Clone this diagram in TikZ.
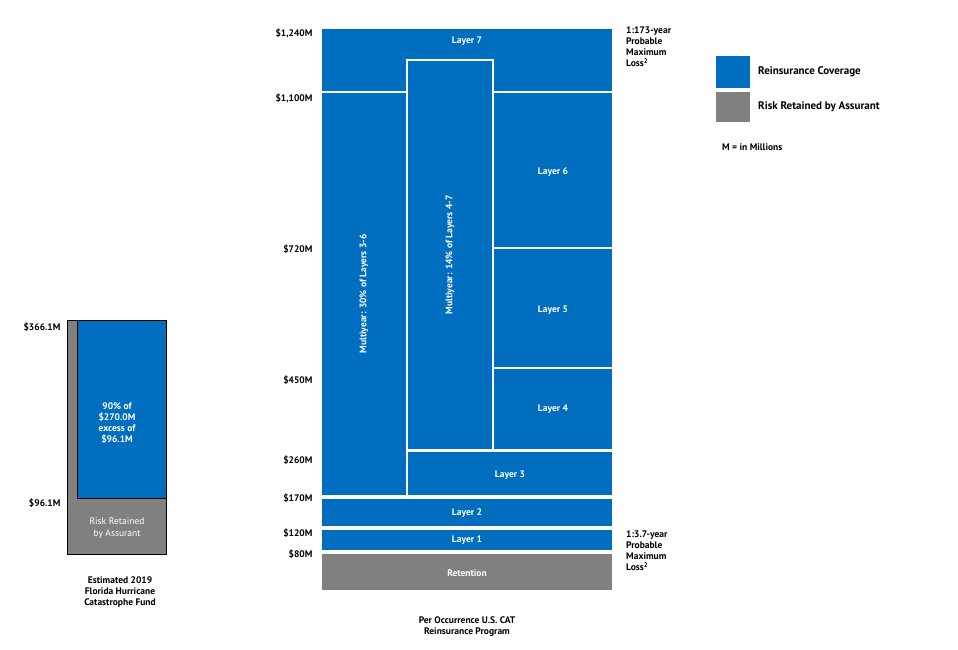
\documentclass[tikz,border=0pt]{standalone}
\usepackage{fontspec}
\setmainfont{PT Sans}
\usetikzlibrary{positioning}
\definecolor{cover}{RGB}{0,110,190}
\definecolor{kept}{RGB}{128,128,128}
\tikzset{
  blk/.style={fill=cover, draw=white, line width=1.5pt},
  ret/.style={fill=kept, draw=white, line width=1.5pt},
  lbl/.style={text=white, font=\bfseries\fontsize{9.5}{11}\selectfont},
  ticklbl/.style={anchor=east, font=\bfseries\fontsize{9.5}{11}\selectfont},
  note/.style={anchor=north west, align=left, font=\bfseries\fontsize{9.5}{11}\selectfont, inner sep=0pt},
  captxt/.style={align=center, font=\bfseries\fontsize{9.5}{11}\selectfont},
}
\begin{document}
\begin{tikzpicture}[x=1pt, y=-1pt]
  \useasboundingbox (0,0) rectangle (958,649);
  % main program
  \draw[blk] (321,28) rectangle (613,92);
  \node[lbl] (l7) at (467,41) {Layer 7};
  \draw[blk] (321,92) rectangle (407,496);
  \node[lbl, rotate=90] (m36) at (364,294) {Multiyear: 30\% of Layers 3-6};
  \draw[blk] (407,60) rectangle (493,450);
  \node[lbl, rotate=90] (m47) at (450,255) {Multiyear: 14\% of Layers 4-7};
  \draw[blk] (493,92) rectangle (613,248);
  \node[lbl] (l6) at (553,172) {Layer 6};
  \draw[blk] (493,248) rectangle (613,368);
  \node[lbl] (l5) at (553,310) {Layer 5};
  \draw[blk] (493,368) rectangle (613,450);
  \node[lbl] (l4) at (553,409) {Layer 4};
  \draw[blk] (407,451) rectangle (613,496);
  \node[lbl] (l3) at (510,475) {Layer 3};
  \draw[blk] (321,498) rectangle (613,527);
  \node[lbl] (l2) at (467,513) {Layer 2};
  \draw[blk] (321,529) rectangle (613,551);
  \node[lbl] (l1) at (467,540) {Layer 1};
  \draw[ret] (321,553) rectangle (613,591);
  \node[lbl] (rt) at (467,573) {Retention};
  % ticks
  \foreach \v/\y in {{\$1,240M}/33, {\$1,100M}/98, \$720M/249, \$450M/380, \$260M/460, \$170M/498, \$120M/533, \$80M/554}
    \node[ticklbl] at (316,\y) {\v};
  \node[note] (pml1) at (626,27) {1:173-year\\Probable\\Maximum\\Loss\textsuperscript{2}};
  \node[note] (pml2) at (626,531) {1:3.7-year\\Probable\\Maximum\\Loss\textsuperscript{2}};
  \node[captxt] (prog) at (467,627) {Per Occurrence U.S. CAT\\Reinsurance Program};
  % florida fund
  \draw[fill=kept, draw=black] (67,320) rectangle (166,554);
  \draw[fill=cover, draw=black] (77,320) rectangle (166,498);
  \node[lbl, align=center] (fh) at (117,423) {90\% of\\\$270.0M\\excess of\\\$96.1M};
  \node[lbl, align=center, font=\fontsize{9.5}{12}\selectfont] (rk) at (117,528) {Risk Retained\\by Assurant};
  \node[ticklbl] at (64,327) {\$366.1M};
  \node[ticklbl] at (64,503) {\$96.1M};
  \node[captxt] (fund) at (120,592) {Estimated 2019\\Florida Hurricane\\Catastrophe Fund};
  % legend
  \draw[fill=cover, draw=none] (716,56) rectangle (750,88);
  \node[note, anchor=west] (lg1) at (758,72) {\fontsize{11}{13}\selectfont Reinsurance Coverage};
  \draw[fill=kept, draw=none] (716,92) rectangle (750,122);
  \node[note, anchor=west] (lg2) at (758,107) {\fontsize{11}{13}\selectfont Risk Retained by Assurant};
  \node[note, anchor=west] (mil) at (722,147) {M = in Millions};
\end{tikzpicture}
\end{document}
